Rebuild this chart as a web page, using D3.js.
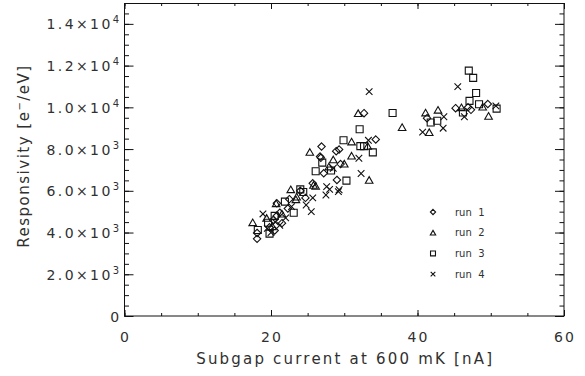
<!DOCTYPE html>
<html>
<head>
<meta charset="utf-8">
<script src="https://cdn.jsdelivr.net/npm/d3@7"></script>
<style>
  body { margin: 0; background: #fff; }
  text { font-family: "DejaVu Sans", sans-serif; fill: #303030; }
</style>
</head>
<body>
<div id="chart"></div>
<script>

// subgap current [nA], responsivity [e-/eV]
const run1 = [[18.1,3700],[18.1,3980],[19.8,4250],[20.3,4600],[20.8,4800],[21.2,4950],[20.5,4100],[21.5,4450],
  [20.8,5400],[22.3,5150],[22.5,5600],[24.0,6000],[24.7,5660],[25.7,6360],[26.7,7640],[26.9,8120],[26.8,7580],
  [27.2,6840],[28.9,7900],[29.3,7980],[29.5,7280],[29.0,6520],[32.7,9720],[34.3,8460],[41.3,9480],[45.2,9960],
  [46.9,10000],[47.3,9880],[49.6,10160]]
const run2 = [[17.5,4490],[19.4,4700],[20.2,4300],[20.7,5400],[21.5,4900],[22.7,6070],[23.5,5720],[23.4,5590],
  [25.8,6280],[26.1,6230],[25.3,7860],[27.9,7160],[28.5,7500],[30.0,7300],[31.0,8360],[31.0,7680],[31.9,9720],
  [33.2,8150],[33.4,6520],[37.9,9050],[41.1,9750],[41.6,8810],[42.8,9880],[46.0,10000],[48.9,10030],[49.7,9590]]
const run3 = [[18.2,4120],[19.6,4470],[19.8,3950],[20.5,4800],[21.9,5480],[23.1,4950],[24.0,6070],[24.4,5940],
  [26.1,6940],[27.0,7350],[28.2,6970],[29.9,8420],[30.3,6490],[32.1,8950],[32.2,8140],[32.7,8140],[33.9,7840],
  [36.6,9730],[41.8,9270],[42.7,9360],[46.2,9750],[47.0,11760],[47.6,11410],[48.0,10690],[47.1,10310],
  [48.4,10150],[50.8,9940]]
const run4 = [[18.9,4890],[19.5,4200],[20.0,4000],[20.6,4500],[21.2,4350],[22.0,4700],[22.8,5240],[24.8,5320],
  [25.5,5000],[25.7,5660],[27.5,5800],[27.6,6200],[28.0,6070],[28.5,7080],[29.3,6050],[29.2,5960],[32.0,7560],
  [32.3,6830],[33.3,8420],[33.4,10750],[40.7,8810],[43.5,9000],[43.6,9550],[45.5,10990],[46.4,9550],[50.7,10070]]

const runNames = ["run  1", "run  2", "run  3", "run  4"]
const xMajor = [0, 20, 40, 60]
const xMinor = d3.range(0, 61, 5)
const yMajor = d3.range(0, 14001, 2000)
const yMinor = d3.range(0, 15001, 500)

const width = 585
const height = 376
const margin = {top: 3, right: 21, bottom: 60, left: 124.5}

const svg = d3.select("#chart")
    .append("svg")
    .attr("width", width)
    .attr("height", height)

const x = d3.scaleLinear()
    .domain([0, 60])
    .range([margin.left, width - margin.right])

const y = d3.scaleLinear()
    .domain([0, 15000])
    .range([height - margin.bottom, margin.top])

// IDL-ish symbols, size = width squared
const diamond = {draw(ctx, size) {
    const r = Math.sqrt(size) / 2
    ctx.moveTo(0, -r); ctx.lineTo(r, 0); ctx.lineTo(0, r); ctx.lineTo(-r, 0); ctx.closePath()
}}
const triangle = {draw(ctx, size) {
    const r = Math.sqrt(size) / 2
    ctx.moveTo(0, -r * 0.87); ctx.lineTo(r, r * 0.87); ctx.lineTo(-r, r * 0.87); ctx.closePath()
}}
const square = {draw(ctx, size) {
    const r = Math.sqrt(size) / 2
    ctx.rect(-r, -r, 2 * r, 2 * r)
}}
const cross = {draw(ctx, size) {
    const r = Math.sqrt(size) / 2
    ctx.moveTo(-r, -r); ctx.lineTo(r, r); ctx.moveTo(-r, r); ctx.lineTo(r, -r)
}}

const runs = [
    {data: run1, type: diamond, size: 7.4 * 7.4},
    {data: run2, type: triangle, size: 7.6 * 7.6},
    {data: run3, type: square, size: 7 * 7},
    {data: run4, type: cross, size: 6.6 * 6.6}
]

// Axes with inward ticks on all four sides
const axes = svg.append("g")

function addAxis(axis, tr) {
    axes.append("g")
        .attr("transform", tr)
        .call(axis)
        .call(g => g.select(".domain").remove())
        .call(g => g.selectAll("line").attr("stroke", "#111"))
}

const bottom = height - margin.bottom
const right = width - margin.right

addAxis(d3.axisBottom(x).tickValues(xMinor).tickSize(-3).tickFormat(""), `translate(0,${bottom})`)
addAxis(d3.axisBottom(x).tickValues(xMajor).tickSize(-6).tickFormat(""), `translate(0,${bottom})`)
addAxis(d3.axisTop(x).tickValues(xMinor).tickSize(-3).tickFormat(""), `translate(0,${margin.top})`)
addAxis(d3.axisTop(x).tickValues(xMajor).tickSize(-6).tickFormat(""), `translate(0,${margin.top})`)
addAxis(d3.axisLeft(y).tickValues(yMinor).tickSize(-4.5).tickFormat(""), `translate(${margin.left},0)`)
addAxis(d3.axisLeft(y).tickValues(yMajor).tickSize(-9).tickFormat(""), `translate(${margin.left},0)`)
addAxis(d3.axisRight(y).tickValues(yMinor).tickSize(-4.5).tickFormat(""), `translate(${right},0)`)
addAxis(d3.axisRight(y).tickValues(yMajor).tickSize(-9).tickFormat(""), `translate(${right},0)`)

svg.append("rect")
    .attr("x", margin.left)
    .attr("y", margin.top + 0.5)
    .attr("width", right - margin.left)
    .attr("height", bottom - margin.top - 0.5)
    .attr("fill", "none")
    .attr("stroke", "#111")
    .attr("stroke-width", 1)

// Tick labels
svg.append("g")
    .selectAll("text")
    .data(xMajor)
    .join("text")
    .attr("x", d => x(d) + 1)
    .attr("y", bottom + 26)
    .attr("text-anchor", "middle")
    .style("font-size", "14px")
    .style("letter-spacing", "2px")
    .text(d => d)

const yLabels = svg.append("g")
    .selectAll("text")
    .data(yMajor)
    .join("text")
    .attr("x", margin.left - 3)
    .attr("y", d => y(d) + 5.5)
    .attr("text-anchor", "end")
    .style("font-size", "14px")
    .style("letter-spacing", "2.4px")

yLabels.each(function(d) {
    const t = d3.select(this)
    if (d === 0) { t.text("0"); return }
    const e = Math.floor(Math.log10(d))
    t.append("tspan").text(`${(d / 10 ** e).toFixed(1)}×10`)
    t.append("tspan").attr("dy", -6).style("font-size", "10px").text(e)
})

// Axis titles
svg.append("text")
    .attr("x", (margin.left + right) / 2 + 1)
    .attr("y", 363.5)
    .attr("text-anchor", "middle")
    .style("font-size", "15px")
    .style("letter-spacing", "2.2px")
    .text("Subgap current at 600 mK [nA]")

const yTitle = svg.append("text")
    .attr("transform", "translate(28.5,156) rotate(-90)")
    .attr("text-anchor", "middle")
    .style("font-size", "15px")
    .style("letter-spacing", "1.5px")
yTitle.append("tspan").text("Responsivity [e")
yTitle.append("tspan").attr("dy", -6).style("font-size", "10px").text("−")
yTitle.append("tspan").attr("dy", 6).text("/eV]")

// Points
const symbol = d3.symbol()

runs.forEach(r => {
    svg.append("g")
        .selectAll("path")
        .data(r.data)
        .join("path")
        .attr("transform", d => `translate(${x(d[0])},${y(d[1])})`)
        .attr("d", symbol.type(r.type).size(r.size)())
        .attr("fill", "none")
        .attr("stroke", "#111")
        .attr("stroke-width", 1.1)
})

// Legend
const legend = svg.append("g").attr("transform", "translate(433,212)")

const rows = legend.selectAll("g")
    .data(runs)
    .join("g")
    .attr("transform", (d, i) => `translate(0,${i * 20.7})`)

rows.append("path")
    .attr("d", d => symbol.type(d.type).size(d.size * 0.5)())
    .attr("fill", "none")
    .attr("stroke", "#111")
    .attr("stroke-width", 1.1)

rows.append("text")
    .attr("x", 22)
    .attr("y", 3.5)
    .style("font-size", "10px")
    .style("white-space", "pre")
    .text((d, i) => runNames[i])

</script>
</body>
</html>
